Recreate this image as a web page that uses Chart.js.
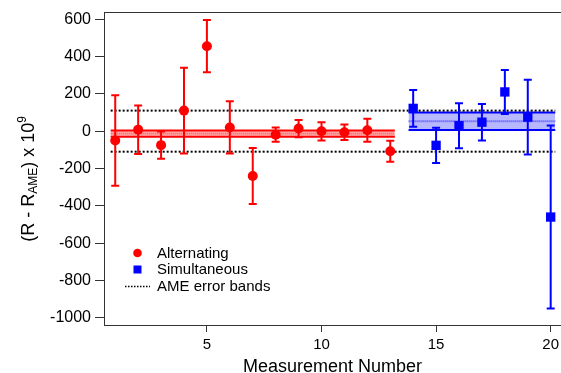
<!DOCTYPE html>
<html>
<head>
<meta charset="utf-8">
<script src="https://cdn.jsdelivr.net/npm/chart.js@4.4.1/dist/chart.umd.min.js"></script>
<style>
  html, body { margin: 0; padding: 0; background: #fff; }
  #wrap { width: 561px; height: 373px; }
</style>
</head>
<body>
<div id="wrap"><canvas id="chart"></canvas></div>
<script>
// Alternating measurements (red circles)
const altX = [1, 2, 3, 4, 5, 6, 7, 8, 9, 10, 11, 12, 13];
const altY = [-50, 8, -75, 110, 455, 20, -240, -19, 14, -1, -6, 5, -108];
const altErr = [242, 130, 73, 230, 140, 140, 150, 38, 46, 49, 41, 62, 56];

// Simultaneous measurements (blue squares)
const simX = [14, 15, 16, 17, 18, 19, 20];
const simY = [122, -76, 29, 48, 210, 75, -460];
const simErr = [99, 94, 120, 98, 118, 200, 490];

// Weighted means with their error bands
const altMean = [-13, 17];        // mean, error
const altSpan = [0.8, 13.2];
const simMean = [53, 47];
const simSpan = [13.8, 20.2];

// AME error bands
const ameErr = 110;
const ameSpan = [0.8, 20.2];

// Axis ticks
const xTicks = [5, 10, 15, 20];
const yTicks = [-1000, -800, -600, -400, -200, 0, 200, 400, 600];

const FONT = '"Liberation Sans", Arial, Helvetica, sans-serif';

function pts(xs, ys) {
    return xs.map((x, i) => ({ x: x, y: ys[i] }));
}
function hline(span, v) {
    return [{ x: span[0], y: v }, { x: span[1], y: v }];
}

// Error bars, drawn under the markers
const errorBars = {
    id: 'errorBars',
    beforeDatasetDraw(chart, args) {
        if (args.index !== 1) return;
        const { ctx, scales: { x, y } } = chart;
        const draw = (xs, ys, es, color) => {
            ctx.save();
            ctx.strokeStyle = color;
            ctx.lineWidth = 2;
            xs.forEach((xv, i) => {
                const px = x.getPixelForValue(xv);
                const top = y.getPixelForValue(ys[i] + es[i]);
                const bot = y.getPixelForValue(ys[i] - es[i]);
                ctx.beginPath();
                ctx.moveTo(px, top);
                ctx.lineTo(px, bot);
                ctx.moveTo(px - 4, top);
                ctx.lineTo(px + 4, top);
                ctx.moveTo(px - 4, bot);
                ctx.lineTo(px + 4, bot);
                ctx.stroke();
            });
            ctx.restore();
        };
        draw(altX, altY, altErr, '#ff0000');
        draw(simX, simY, simErr, '#0000ff');
    }
};

// Frame top line, axis titles and the legend
const decorations = {
    id: 'decorations',
    afterDraw(chart) {
        const { ctx, chartArea } = chart;
        ctx.save();
        ctx.strokeStyle = '#333';
        ctx.lineWidth = 1;
        ctx.beginPath();
        ctx.moveTo(chartArea.left, chartArea.top + 0.5);
        ctx.lineTo(chartArea.right, chartArea.top + 0.5);
        ctx.stroke();

        // x title
        ctx.fillStyle = '#000';
        ctx.font = '18px ' + FONT;
        ctx.textAlign = 'center';
        ctx.textBaseline = 'alphabetic';
        ctx.fillText('Measurement Number', (chartArea.left + chartArea.right) / 2, 371.5);

        // y title with subscript and superscript
        ctx.textAlign = 'left';
        ctx.translate(34, 179);
        ctx.rotate(-Math.PI / 2);
        const big = '18px ' + FONT, small = '12px ' + FONT;
        const parts = [['(R - R', big, 0], ['AME', small, 3], [') x 10', big, 0], ['9', small, -8]];
        let total = 0;
        parts.forEach(p => { ctx.font = p[1]; total += ctx.measureText(p[0]).width; });
        let pos = -total / 2;
        parts.forEach(p => {
            ctx.font = p[1];
            ctx.fillText(p[0], pos, p[2]);
            pos += ctx.measureText(p[0]).width;
        });
        ctx.restore();

        // legend
        ctx.save();
        ctx.font = '15px ' + FONT;
        ctx.fillStyle = '#000';
        ctx.textBaseline = 'alphabetic';
        ctx.fillText('Alternating', 157, 257.5);
        ctx.fillText('Simultaneous', 157, 274);
        ctx.fillText('AME error bands', 157, 290.5);
        ctx.fillStyle = '#ff0000';
        ctx.beginPath();
        ctx.arc(137.5, 253, 4.3, 0, Math.PI * 2);
        ctx.fill();
        ctx.fillStyle = '#0000ff';
        ctx.fillRect(133.5, 265.5, 8, 8);
        ctx.strokeStyle = '#000';
        ctx.lineWidth = 1.5;
        ctx.setLineDash([1.5, 1.5]);
        ctx.beginPath();
        ctx.moveTo(125, 286.5);
        ctx.lineTo(150, 286.5);
        ctx.stroke();
        ctx.restore();
    }
};

const ctx = document.getElementById('chart').getContext('2d');
new Chart(ctx, {
    type: 'scatter',
    data: {
        datasets: [
            {   // 0
                label: 'Alternating',
                data: pts(altX, altY),
                pointStyle: 'circle',
                pointRadius: 5,
                backgroundColor: '#ff0000',
                borderWidth: 0
            },
            {   // 1
                label: 'Simultaneous',
                data: pts(simX, simY),
                pointStyle: 'rect',
                pointRadius: 6.6,
                backgroundColor: '#0000ff',
                borderWidth: 0
            },
            {   // 2
                type: 'line',
                data: hline(ameSpan, ameErr),
                borderColor: '#000',
                borderWidth: 2,
                borderDash: [2, 2],
                pointRadius: 0,
                fill: false
            },
            {   // 3
                type: 'line',
                data: hline(ameSpan, -ameErr),
                borderColor: '#000',
                borderWidth: 2,
                borderDash: [2, 2],
                pointRadius: 0,
                fill: false
            },
            {   // 4 alt mean
                type: 'line',
                data: hline(altSpan, altMean[0]),
                borderColor: 'rgba(255,0,0,0.55)',
                borderWidth: 2,
                borderDash: [1, 1],
                pointRadius: 0,
                fill: false
            },
            {   // 5 alt band top
                type: 'line',
                data: hline(altSpan, altMean[0] + altMean[1]),
                borderColor: '#ff0000',
                borderWidth: 2,
                pointRadius: 0,
                backgroundColor: 'rgba(255,0,0,0.3)',
                fill: 6
            },
            {   // 6 alt band bottom
                type: 'line',
                data: hline(altSpan, altMean[0] - altMean[1]),
                borderColor: '#ff0000',
                borderWidth: 2,
                pointRadius: 0,
                fill: false
            },
            {   // 7 sim mean
                type: 'line',
                data: hline(simSpan, simMean[0]),
                borderColor: 'rgba(0,0,255,0.6)',
                borderWidth: 2,
                borderDash: [1, 1],
                pointRadius: 0,
                fill: false
            },
            {   // 8 sim band top
                type: 'line',
                data: hline(simSpan, simMean[0] + simMean[1]),
                borderColor: '#0000ff',
                borderWidth: 2,
                pointRadius: 0,
                backgroundColor: 'rgba(0,0,255,0.28)',
                fill: 9
            },
            {   // 9 sim band bottom
                type: 'line',
                data: hline(simSpan, simMean[0] - simMean[1]),
                borderColor: '#0000ff',
                borderWidth: 2,
                pointRadius: 0,
                fill: false
            }
        ]
    },
    options: {
        responsive: true,
        maintainAspectRatio: false,
        animation: false,
        layout: { autoPadding: false, padding: { top: 12, right: 0, left: 0, bottom: 0 } },
        plugins: {
            legend: { display: false },
            tooltip: { enabled: false }
        },
        scales: {
            x: {
                type: 'linear',
                min: 0.51,
                max: 20.45,
                afterBuildTicks: (s) => { s.ticks = xTicks.map(v => ({ value: v })); },
                afterFit: (s) => { s.height = 48; s.paddingLeft = 0; s.paddingRight = 0; },
                grid: { drawOnChartArea: false, drawTicks: true, tickLength: 7, tickColor: '#333' },
                border: { display: true, color: '#333', width: 1 },
                ticks: {
                    font: { family: FONT, size: 15 }, color: '#000', padding: 4, maxRotation: 0,
                    callback: (v) => String(v)
                }
            },
            y: {
                min: -1038,
                max: 638,
                afterBuildTicks: (s) => { s.ticks = yTicks.map(v => ({ value: v })); },
                afterFit: (s) => { s.width = 104; s.paddingTop = 0; s.paddingBottom = 0; },
                grid: { drawOnChartArea: false, drawTicks: true, tickLength: 9, tickColor: '#333' },
                border: { display: true, color: '#333', width: 1 },
                ticks: {
                    font: { family: FONT, size: 16 }, color: '#000', padding: 4,
                    callback: (v) => String(v)
                }
            }
        }
    },
    plugins: [errorBars, decorations]
});
</script>
</body>
</html>
